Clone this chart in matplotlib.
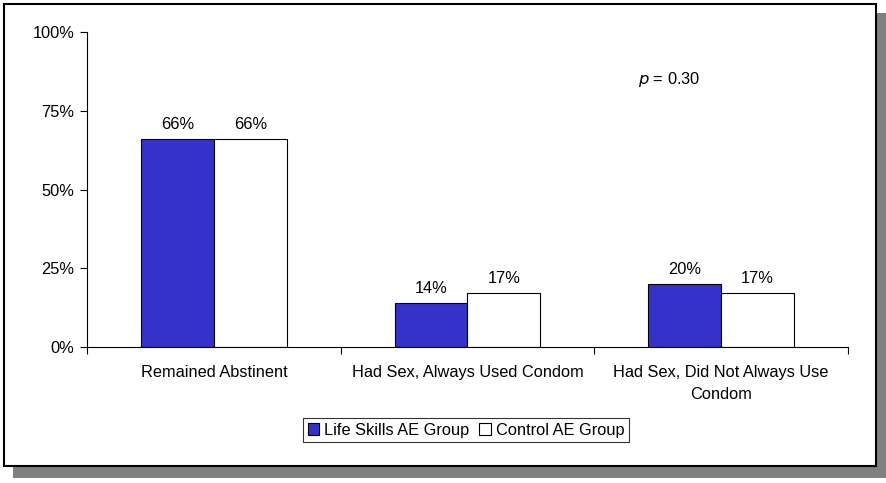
import numpy as np
import matplotlib.pyplot as plt
from matplotlib.patches import Rectangle

categories = ['Remained Abstinent', 'Had Sex, Always Used Condom',
              'Had Sex, Did Not Always Use\nCondom']
life_skills = [66, 14, 20]
control = [66, 17, 17]
series_names = ['Life Skills AE Group', 'Control AE Group']
yticks = [0, 25, 50, 75, 100]

plt.rcParams['font.family'] = ['Liberation Sans', 'DejaVu Sans']
plt.rcParams['font.size'] = 11.8

W, H = 887, 483
fig = plt.figure(figsize=(W / 100, H / 100), dpi=100)

# shadow and frame, in pixel coordinates
fig.patches.append(Rectangle((13 / W, (H - 478) / H), (886 - 13) / W, (478 - 13) / H,
                             transform=fig.transFigure, facecolor='#808080', edgecolor='none', zorder=0))
fig.patches.append(Rectangle((4 / W, (H - 466) / H), (876 - 4) / W, (466 - 4) / H,
                             transform=fig.transFigure, facecolor='white', edgecolor='black',
                             linewidth=1.5, zorder=1))

ax = fig.add_axes([87 / W, (H - 347) / H, (848 - 87) / W, (347 - 32) / H])
ax.set_facecolor('none')
ax.set_zorder(3)

x = np.arange(len(categories))
bw = 0.2877
b1 = ax.bar(x - bw / 2, life_skills, bw, color='#3333CC', edgecolor='black', linewidth=0.8,
            label=series_names[0])
b2 = ax.bar(x + bw / 2, control, bw, color='white', edgecolor='black', linewidth=0.8,
            label=series_names[1])

for bars, vals in ((b1, life_skills), (b2, control)):
    for rect, v in zip(bars, vals):
        ax.text(rect.get_x() + rect.get_width() / 2, v + 2.3, f'{v}%', ha='center', va='bottom')

ax.set_xlim(-0.5, len(categories) - 0.5)
ax.set_ylim(0, 100)
ax.set_yticks(yticks)
ax.set_yticklabels([f'{t}%' for t in yticks])
ax.set_xticks(x)
ax.set_xticklabels(categories, linespacing=1.55)
ax.tick_params(axis='x', length=0, pad=13)
ax.set_xticks(np.arange(len(categories) + 1) - 0.5, minor=True)
ax.tick_params(axis='x', which='minor', length=5, width=0.8, direction='out')
ax.tick_params(axis='y', length=5, width=0.8, direction='out', pad=4)
ax.spines['top'].set_visible(False)
ax.spines['right'].set_visible(False)
for s in ('left', 'bottom'):
    ax.spines[s].set_linewidth(0.8)

ax.text(1.672, 85, r'$p$ = 0.30', ha='left', va='center')

leg = fig.legend(handles=[b1, b2], labels=series_names, ncol=2, loc='center',
                 bbox_to_anchor=((303 + 629) / 2 / W, (H - 430) / H), frameon=True, fancybox=False,
                 edgecolor='black', handlelength=0.7, handleheight=0.7, handletextpad=0.3,
                 columnspacing=0.6, borderpad=0.3, borderaxespad=0)
leg.set_zorder(3)
leg.get_frame().set_linewidth(0.8)

fig.savefig('out.png', dpi=100)
